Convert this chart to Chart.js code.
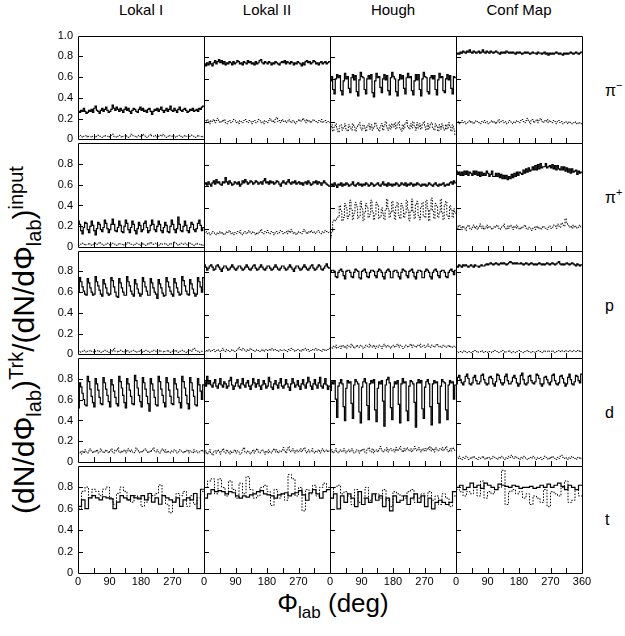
<!DOCTYPE html>
<html>
<head>
<meta charset="utf-8">
<script src="https://cdn.jsdelivr.net/npm/chart.js@4.4.1/dist/chart.umd.min.js"></script>
<style>
  body { margin: 0; background: #fff; }
  #page { position: relative; width: 625px; height: 636px; overflow: hidden; font-family: "Liberation Sans", Arial, sans-serif; color: #000; }
  #page canvas { position: absolute; }
  .colTitle { position: absolute; top: 2px; width: 126px; text-align: center; font-size: 15px; line-height: 15px; }
  .rowLabel { position: absolute; left: 605px; font-size: 16px; line-height: 16px; }
  .rowLabel sup { font-size: 11px; line-height: 0; vertical-align: 7px; }
  #xTitle { position: absolute; left: 230px; width: 206px; top: 590px; text-align: center; font-size: 26px; line-height: 26px; white-space: nowrap; }
  #yTitle { position: absolute; left: 24px; top: 340px; font-size: 30px; line-height: 30px; white-space: nowrap;
            transform: translate(-50%, -50%) rotate(-90deg); }
  sub, sup { line-height: 0; }
  #xTitle sub { font-size: 17px; }
  #yTitle sub, #yTitle sup { font-size: 20px; }
</style>
</head>
<body>
<div id="page">
  <div class="colTitle" style="left:78px">Lokal I</div>
  <div class="colTitle" style="left:204px">Lokal II</div>
  <div class="colTitle" style="left:330px">Hough</div>
  <div class="colTitle" style="left:456px">Conf Map</div>
  <div class="rowLabel" style="top:83px">&pi;<sup>&minus;</sup></div>
  <div class="rowLabel" style="top:190px">&pi;<sup>+</sup></div>
  <div class="rowLabel" style="top:298px">p</div>
  <div class="rowLabel" style="top:405px">d</div>
  <div class="rowLabel" style="top:512px">t</div>
  <div id="xTitle">&Phi;<sub>lab</sub> (deg)</div>
  <div id="yTitle">(dN/d&Phi;<sub>lab</sub>)<sup>Trk</sup>/(dN/d&Phi;<sub>lab</sub>)<sup>input</sup></div>
</div>
<script>
// column / row names
const methods = ["Lokal I", "Lokal II", "Hough", "Conf Map"];
const particles = ["pi-", "pi+", "p", "d", "t"];

// axis ticks
const phiLabelTicks = [0, 90, 180, 270, 360];
const phiMarkTicks = [45, 90, 135, 180, 225, 270, 315];
const ratioMarkTicks = [0.2, 0.4, 0.6, 0.8];

// ---- pi- ----
const piMinusLokal1 = [
  .27,.26,.28,.27,.30,.27,.25,.26,.28,.27,.29,.26,
  .30,.32,.28,.27,.25,.28,.30,.27,.29,.31,.28,.26,
  .27,.29,.33,.30,.28,.31,.29,.27,.30,.28,.26,.29,
  .31,.28,.30,.27,.25,.28,.30,.29,.27,.26,.29,.31,
  .28,.30,.27,.28,.26,.29,.30,.27,.24,.27,.29,.28,
  .30,.27,.29,.31,.28,.26,.28,.30,.27,.29,.32,.28,
  .27,.30,.28,.26,.29,.31,.28,.27,.29,.30,.28,.26,
  .27,.29,.28,.30,.27,.28,.29,.27,.30,.29,.31,.32];
const piMinusLokal1Dot = [
  .03,.04,.03,.02,.03,.03,.04,.02,.03,.03,.02,.03,
  .03,.02,.03,.04,.03,.03,.02,.03,.04,.03,.03,.02,
  .03,.04,.05,.03,.03,.02,.03,.04,.03,.02,.03,.03,
  .04,.03,.02,.03,.05,.04,.03,.03,.02,.03,.04,.03,
  .03,.05,.04,.03,.02,.03,.04,.05,.03,.03,.04,.03,
  .02,.03,.04,.03,.05,.04,.03,.02,.03,.04,.03,.03,
  .04,.03,.02,.03,.03,.04,.03,.02,.03,.04,.03,.03,
  .02,.03,.04,.03,.03,.02,.03,.04,.03,.03,.02,.03];
const piMinusLokal2 = [
  .74,.72,.75,.73,.76,.74,.72,.75,.77,.74,.76,.78,
  .75,.77,.74,.76,.73,.75,.74,.76,.75,.73,.76,.74,
  .75,.77,.76,.74,.75,.73,.76,.75,.74,.77,.75,.76,
  .74,.75,.73,.76,.74,.75,.77,.78,.75,.74,.76,.75,
  .74,.76,.75,.73,.75,.74,.76,.75,.74,.73,.75,.76,
  .75,.77,.74,.76,.75,.74,.76,.75,.73,.75,.74,.76,
  .75,.74,.72,.75,.73,.76,.77,.75,.76,.74,.75,.77,
  .76,.74,.75,.73,.75,.76,.74,.75,.76,.74,.75,.76];
const piMinusLokal2Dot = [
  .21,.19,.22,.20,.18,.21,.20,.22,.19,.21,.23,.20,
  .19,.21,.20,.22,.19,.18,.20,.21,.19,.20,.22,.21,
  .19,.20,.18,.21,.20,.19,.21,.22,.20,.19,.21,.20,
  .18,.20,.21,.19,.20,.22,.21,.19,.20,.18,.21,.20,
  .19,.21,.23,.20,.21,.19,.22,.24,.20,.21,.19,.22,
  .20,.21,.19,.20,.22,.20,.19,.21,.20,.18,.20,.21,
  .22,.20,.21,.23,.21,.19,.22,.20,.21,.19,.20,.22,
  .21,.20,.19,.21,.20,.22,.19,.20,.21,.19,.20,.19];
const piMinusHough = [
  .58,.62,.50,.46,.60,.64,.61,.63,.49,.45,.58,.65,
  .60,.62,.51,.47,.61,.64,.59,.63,.48,.44,.59,.66,
  .62,.61,.50,.46,.60,.63,.60,.64,.47,.43,.58,.65,
  .61,.62,.52,.47,.60,.64,.59,.63,.49,.45,.61,.66,
  .62,.60,.48,.44,.59,.64,.60,.63,.51,.46,.61,.65,
  .61,.62,.49,.45,.58,.64,.59,.64,.50,.44,.60,.66,
  .62,.61,.48,.46,.61,.63,.60,.63,.50,.45,.59,.65,
  .61,.62,.49,.47,.60,.64,.59,.63,.51,.46,.62,.61];
const piMinusHoughDot = [
  .13,.17,.11,.15,.18,.13,.10,.16,.17,.12,.15,.18,
  .13,.11,.17,.15,.12,.18,.15,.11,.14,.17,.19,.14,
  .12,.17,.14,.11,.16,.18,.13,.17,.12,.15,.19,.16,
  .13,.11,.16,.18,.12,.17,.20,.14,.12,.17,.13,.18,
  .15,.19,.13,.17,.20,.14,.11,.17,.13,.18,.21,.15,
  .13,.18,.14,.20,.16,.12,.19,.14,.18,.13,.17,.20,
  .15,.12,.18,.13,.17,.19,.14,.12,.18,.15,.11,.17,
  .13,.18,.14,.12,.17,.13,.19,.15,.11,.17,.13,.08];
const piMinusConf = [
  .83,.84,.83,.85,.84,.86,.85,.84,.86,.85,.87,.85,
  .84,.86,.85,.84,.85,.86,.84,.85,.87,.85,.84,.86,
  .85,.84,.86,.85,.84,.85,.86,.85,.84,.83,.85,.84,
  .85,.84,.86,.85,.84,.85,.84,.85,.84,.83,.85,.84,
  .85,.84,.83,.84,.85,.84,.85,.84,.83,.84,.85,.84,
  .84,.83,.85,.84,.84,.83,.84,.85,.83,.84,.82,.84,
  .83,.84,.83,.84,.85,.84,.83,.84,.83,.82,.84,.83,
  .84,.83,.84,.85,.84,.83,.84,.85,.84,.83,.84,.85];
const piMinusConfDot = [
  .19,.20,.18,.19,.21,.19,.20,.18,.19,.20,.21,.19,
  .20,.18,.19,.21,.20,.19,.18,.20,.19,.21,.19,.20,
  .18,.19,.20,.21,.19,.20,.18,.20,.22,.19,.20,.21,
  .19,.20,.18,.19,.21,.20,.19,.18,.20,.19,.21,.20,
  .19,.21,.22,.20,.19,.21,.23,.20,.18,.21,.22,.19,
  .20,.22,.19,.21,.23,.20,.19,.21,.20,.22,.19,.21,
  .20,.19,.21,.20,.18,.20,.21,.19,.20,.18,.19,.20,
  .19,.18,.20,.19,.18,.19,.20,.18,.19,.18,.19,.18];

// ---- pi+ ----
const piPlusLokal1 = [
  .25,.22,.16,.13,.19,.24,.23,.17,.14,.20,.25,.21,
  .16,.12,.18,.24,.22,.17,.15,.19,.26,.23,.18,.14,
  .17,.22,.27,.22,.16,.15,.19,.25,.21,.15,.14,.20,
  .26,.23,.17,.14,.19,.25,.22,.16,.13,.18,.24,.21,
  .15,.17,.23,.25,.19,.14,.16,.21,.26,.22,.17,.15,
  .20,.25,.22,.16,.14,.19,.24,.21,.15,.14,.20,.26,
  .22,.17,.14,.18,.29,.22,.16,.15,.20,.25,.21,.16,
  .14,.19,.24,.22,.17,.15,.18,.23,.26,.21,.16,.19];
const piPlusLokal1Dot = [
  .02,.03,.03,.04,.03,.02,.03,.03,.04,.03,.02,.03,
  .03,.04,.03,.03,.05,.04,.03,.02,.03,.03,.04,.03,
  .02,.03,.04,.03,.03,.02,.03,.04,.03,.03,.02,.03,
  .03,.04,.05,.04,.03,.03,.02,.03,.04,.03,.03,.02,
  .03,.04,.03,.02,.03,.04,.03,.05,.04,.03,.03,.04,
  .03,.02,.03,.04,.03,.03,.04,.03,.02,.03,.04,.03,
  .03,.05,.04,.03,.02,.03,.04,.03,.03,.04,.03,.02,
  .03,.04,.03,.03,.02,.03,.04,.03,.03,.02,.03,.02];
const piPlusLokal2 = [
  .62,.63,.61,.64,.62,.60,.63,.65,.62,.66,.63,.64,
  .62,.61,.64,.63,.68,.64,.62,.65,.63,.61,.62,.64,
  .63,.62,.64,.60,.62,.65,.63,.66,.64,.62,.63,.65,
  .64,.62,.63,.65,.64,.62,.63,.64,.62,.65,.67,.63,
  .64,.62,.65,.63,.64,.62,.63,.65,.64,.62,.60,.63,
  .65,.63,.62,.64,.66,.63,.62,.64,.63,.65,.62,.63,
  .64,.62,.63,.61,.63,.64,.62,.65,.63,.61,.62,.64,
  .63,.65,.62,.64,.63,.61,.63,.65,.63,.62,.61,.60];
const piPlusLokal2Dot = [
  .17,.18,.16,.17,.15,.16,.18,.17,.16,.15,.17,.16,
  .18,.16,.17,.15,.16,.18,.17,.19,.16,.17,.15,.17,
  .16,.18,.17,.19,.16,.15,.17,.18,.16,.17,.19,.17,
  .16,.18,.17,.15,.17,.16,.18,.20,.17,.16,.18,.17,
  .19,.17,.16,.18,.17,.15,.17,.18,.16,.17,.19,.18,
  .16,.17,.18,.16,.19,.17,.20,.18,.16,.17,.15,.17,
  .18,.17,.16,.18,.20,.17,.16,.18,.17,.19,.17,.18,
  .16,.17,.18,.19,.17,.16,.18,.17,.19,.18,.17,.18];
const piPlusHough = [
  .61,.62,.60,.63,.61,.59,.62,.61,.63,.60,.62,.61,
  .63,.62,.60,.61,.62,.64,.61,.60,.62,.63,.61,.62,
  .60,.62,.61,.63,.62,.60,.61,.63,.62,.60,.61,.62,
  .63,.61,.60,.62,.64,.61,.62,.60,.63,.61,.62,.60,
  .62,.61,.63,.62,.60,.61,.63,.62,.61,.63,.60,.62,
  .61,.63,.62,.60,.62,.61,.63,.62,.61,.60,.62,.61,
  .62,.60,.61,.63,.62,.61,.60,.62,.63,.61,.60,.62,
  .61,.62,.63,.60,.61,.62,.61,.63,.64,.62,.65,.63];
const piPlusHoughDot = [
  .12,.18,.27,.29,.28,.30,.32,.42,.37,.28,.31,.44,
  .40,.30,.33,.47,.38,.29,.35,.45,.41,.30,.32,.46,
  .39,.28,.36,.44,.40,.31,.34,.47,.37,.29,.33,.45,
  .42,.30,.32,.40,.35,.29,.38,.48,.39,.31,.36,.46,
  .36,.29,.41,.45,.33,.30,.44,.40,.31,.35,.47,.38,
  .28,.37,.48,.36,.30,.43,.46,.33,.29,.41,.45,.32,
  .31,.47,.39,.28,.38,.49,.37,.30,.44,.42,.31,.36,
  .48,.35,.29,.43,.46,.33,.30,.42,.38,.31,.39,.35];
const piPlusConf = [
  .74,.71,.73,.70,.73,.70,.74,.71,.74,.70,.73,.72,
  .70,.74,.71,.74,.70,.73,.69,.73,.70,.72,.70,.74,
  .72,.69,.71,.74,.69,.69,.72,.69,.72,.68,.71,.67,
  .70,.67,.70,.66,.69,.67,.71,.68,.72,.69,.73,.70,
  .73,.72,.71,.75,.72,.76,.73,.77,.74,.75,.78,.75,
  .79,.75,.80,.76,.81,.77,.78,.78,.81,.77,.78,.79,
  .77,.80,.76,.79,.75,.79,.76,.75,.78,.75,.78,.74,
  .77,.73,.76,.72,.76,.73,.74,.75,.71,.74,.72,.73];
const piPlusConfDot = [
  .23,.21,.24,.22,.20,.23,.21,.19,.22,.24,.21,.20,
  .22,.24,.21,.23,.20,.22,.25,.21,.23,.20,.22,.24,
  .21,.23,.22,.20,.21,.23,.22,.24,.21,.20,.22,.23,
  .25,.22,.20,.23,.21,.24,.22,.20,.23,.21,.24,.22,
  .20,.22,.21,.23,.24,.21,.20,.22,.21,.19,.21,.22,
  .20,.23,.21,.22,.20,.21,.23,.22,.21,.20,.22,.23,
  .21,.22,.24,.23,.21,.25,.23,.22,.26,.24,.23,.30,
  .26,.24,.22,.23,.21,.24,.22,.23,.21,.22,.24,.22];

// ---- p ----
const protonLokal1 = [
  .60,.74,.70,.65,.61,.58,.57,.73,.69,.64,.60,.57,
  .58,.75,.70,.66,.62,.58,.56,.72,.68,.64,.59,.57,
  .58,.74,.71,.65,.60,.56,.55,.73,.69,.64,.60,.57,
  .57,.75,.70,.66,.61,.58,.56,.72,.68,.63,.59,.56,
  .58,.74,.70,.65,.61,.57,.57,.73,.69,.64,.60,.58,
  .54,.72,.68,.64,.59,.56,.57,.74,.70,.65,.61,.58,
  .56,.73,.69,.64,.60,.57,.58,.75,.71,.66,.61,.58,
  .57,.72,.68,.63,.59,.56,.58,.74,.70,.65,.60,.74];
const protonLokal1Dot = [
  .03,.02,.03,.03,.04,.03,.02,.03,.03,.04,.03,.03,
  .02,.03,.03,.04,.03,.02,.03,.03,.04,.03,.03,.02,
  .03,.04,.03,.06,.03,.03,.02,.03,.04,.03,.02,.03,
  .03,.04,.03,.02,.03,.03,.04,.03,.02,.03,.03,.04,
  .03,.02,.03,.04,.03,.03,.02,.03,.03,.04,.03,.03,
  .02,.03,.04,.03,.03,.02,.03,.03,.04,.03,.02,.03,
  .03,.03,.04,.03,.02,.03,.03,.04,.03,.03,.02,.03,
  .03,.04,.03,.05,.06,.04,.03,.03,.02,.03,.03,.03];
const protonLokal2 = [
  .87,.85,.82,.84,.86,.87,.85,.82,.83,.86,.87,.85,
  .83,.81,.84,.86,.86,.84,.82,.83,.85,.87,.85,.83,
  .82,.84,.86,.86,.84,.82,.83,.85,.87,.85,.83,.82,
  .84,.86,.87,.84,.82,.83,.85,.87,.85,.83,.82,.84,
  .86,.86,.84,.82,.83,.85,.87,.85,.83,.82,.84,.86,
  .86,.84,.82,.83,.85,.87,.85,.83,.81,.84,.86,.86,
  .84,.82,.83,.85,.87,.85,.83,.82,.84,.86,.87,.84,
  .82,.83,.85,.87,.86,.83,.82,.84,.86,.88,.85,.84];
const protonLokal2Dot = [
  .06,.07,.06,.08,.07,.06,.07,.08,.06,.07,.08,.07,
  .06,.07,.09,.07,.06,.08,.07,.06,.07,.08,.07,.06,
  .07,.08,.10,.08,.07,.09,.08,.07,.06,.08,.07,.09,
  .08,.07,.06,.07,.08,.07,.06,.07,.08,.06,.07,.08,
  .07,.08,.07,.09,.08,.07,.08,.07,.06,.07,.08,.07,
  .07,.08,.07,.06,.08,.07,.09,.08,.07,.06,.07,.08,
  .07,.06,.08,.07,.08,.09,.07,.08,.06,.07,.08,.07,
  .08,.09,.07,.08,.07,.06,.08,.07,.08,.07,.08,.09];
const protonHough = [
  .80,.82,.82,.81,.76,.75,.80,.82,.83,.81,.77,.74,
  .81,.82,.82,.80,.76,.75,.80,.83,.82,.81,.75,.74,
  .81,.82,.83,.80,.76,.75,.80,.82,.82,.81,.77,.75,
  .81,.83,.82,.80,.76,.74,.80,.82,.83,.81,.75,.75,
  .81,.82,.82,.80,.76,.74,.80,.83,.82,.81,.77,.75,
  .81,.82,.83,.80,.76,.74,.80,.82,.82,.81,.75,.75,
  .81,.83,.82,.80,.76,.74,.80,.82,.83,.81,.77,.75,
  .81,.82,.82,.80,.76,.75,.80,.82,.83,.81,.78,.82];
const protonHoughDot = [
  .10,.09,.11,.10,.12,.09,.10,.11,.09,.12,.10,.11,
  .09,.12,.11,.10,.13,.11,.09,.10,.12,.11,.10,.12,
  .11,.09,.10,.12,.11,.10,.13,.11,.10,.12,.09,.11,
  .10,.12,.11,.09,.11,.13,.10,.11,.12,.10,.09,.11,
  .12,.10,.11,.13,.10,.12,.11,.09,.10,.12,.11,.10,
  .11,.13,.10,.12,.11,.10,.12,.11,.13,.10,.11,.12,
  .10,.11,.13,.11,.10,.12,.11,.10,.12,.13,.11,.10,
  .11,.10,.12,.11,.10,.11,.12,.10,.11,.10,.11,.10];
const protonConf = [
  .86,.85,.87,.86,.85,.87,.86,.87,.86,.85,.86,.87,
  .86,.85,.87,.86,.86,.85,.86,.87,.86,.86,.87,.88,
  .87,.88,.89,.88,.87,.88,.89,.88,.87,.88,.89,.88,
  .89,.88,.87,.88,.89,.90,.89,.88,.89,.88,.89,.88,
  .88,.89,.88,.87,.88,.89,.88,.87,.88,.89,.88,.87,
  .88,.87,.88,.89,.88,.87,.88,.87,.88,.89,.88,.87,
  .88,.89,.88,.87,.88,.89,.90,.88,.87,.88,.87,.88,
  .89,.88,.87,.88,.89,.88,.87,.86,.88,.87,.86,.87];
const protonConfDot = [
  .06,.05,.06,.06,.05,.06,.07,.06,.05,.06,.06,.05,
  .06,.06,.07,.06,.05,.06,.06,.07,.06,.05,.06,.06,
  .05,.06,.06,.05,.06,.07,.06,.06,.05,.06,.06,.07,
  .06,.05,.06,.06,.07,.06,.05,.06,.06,.05,.06,.06,
  .07,.06,.06,.05,.06,.06,.07,.06,.06,.05,.06,.06,
  .05,.06,.07,.06,.06,.05,.06,.07,.06,.06,.07,.06,
  .06,.07,.06,.05,.06,.06,.07,.06,.07,.06,.06,.07,
  .06,.06,.07,.06,.06,.07,.06,.06,.07,.06,.07,.06];

// ---- d ----
const deuteronLokal1 = [
  .52,.76,.72,.66,.60,.55,.54,.82,.77,.70,.63,.57,
  .53,.80,.75,.69,.62,.56,.55,.81,.76,.70,.64,.58,
  .53,.79,.74,.68,.62,.56,.54,.82,.77,.71,.64,.57,
  .52,.80,.75,.69,.63,.56,.55,.83,.78,.71,.64,.58,
  .53,.81,.76,.70,.63,.56,.49,.80,.75,.69,.62,.55,
  .54,.82,.77,.70,.64,.57,.53,.81,.76,.69,.63,.56,
  .55,.80,.75,.70,.62,.57,.52,.82,.77,.71,.64,.56,
  .51,.81,.76,.69,.63,.55,.54,.80,.74,.68,.60,.74];
const deuteronLokal1Dot = [
  .09,.10,.08,.11,.09,.12,.10,.09,.11,.13,.10,.09,
  .11,.10,.12,.09,.10,.13,.11,.09,.10,.12,.10,.09,
  .11,.13,.10,.09,.12,.11,.14,.10,.09,.11,.10,.12,
  .09,.11,.13,.10,.12,.10,.09,.11,.14,.12,.10,.09,
  .11,.10,.12,.13,.10,.09,.11,.10,.12,.14,.11,.10,
  .12,.10,.09,.11,.13,.10,.12,.09,.11,.10,.09,.11,
  .10,.12,.11,.09,.10,.12,.11,.10,.09,.11,.10,.12,
  .09,.11,.10,.09,.12,.10,.11,.09,.10,.11,.12,.10];
const deuteronLokal2 = [
  .78,.74,.83,.76,.79,.75,.73,.77,.80,.74,.72,.76,
  .81,.75,.73,.78,.76,.72,.74,.79,.82,.75,.71,.74,
  .77,.80,.74,.72,.76,.81,.75,.73,.77,.79,.74,.71,
  .75,.81,.77,.73,.76,.80,.74,.71,.75,.79,.76,.72,
  .74,.82,.78,.73,.71,.76,.79,.75,.72,.77,.81,.74,
  .72,.75,.80,.76,.73,.70,.76,.81,.77,.73,.75,.79,
  .74,.71,.76,.80,.75,.72,.77,.82,.78,.74,.71,.76,
  .80,.75,.72,.77,.82,.74,.72,.76,.81,.75,.71,.74];
const deuteronLokal2Dot = [
  .12,.14,.11,.13,.15,.12,.10,.13,.14,.12,.15,.13,
  .11,.14,.16,.13,.12,.15,.13,.11,.14,.12,.13,.15,
  .12,.14,.13,.11,.12,.15,.17,.13,.12,.14,.13,.11,
  .13,.15,.12,.14,.16,.13,.12,.14,.15,.13,.11,.14,
  .12,.15,.13,.12,.14,.16,.13,.15,.12,.14,.13,.15,
  .17,.14,.12,.15,.18,.14,.13,.16,.14,.12,.15,.13,
  .14,.16,.13,.15,.17,.14,.12,.15,.13,.14,.16,.13,
  .12,.14,.13,.15,.12,.14,.16,.13,.14,.15,.13,.14];
const deuteronHough = [
  .70,.78,.76,.79,.62,.45,.74,.77,.80,.76,.55,.42,
  .72,.79,.77,.78,.58,.44,.75,.80,.78,.76,.50,.40,
  .73,.78,.81,.77,.56,.43,.76,.79,.77,.80,.52,.41,
  .72,.78,.76,.79,.60,.37,.75,.80,.82,.77,.54,.43,
  .73,.78,.76,.79,.57,.40,.76,.81,.77,.78,.51,.42,
  .74,.79,.78,.76,.59,.36,.77,.80,.77,.79,.53,.44,
  .73,.78,.80,.76,.55,.38,.76,.79,.77,.78,.58,.40,
  .74,.80,.78,.77,.52,.43,.75,.79,.77,.78,.62,.75];
const deuteronHoughDot = [
  .13,.15,.12,.14,.16,.13,.12,.15,.14,.13,.16,.14,
  .12,.14,.15,.13,.16,.14,.12,.13,.15,.14,.12,.15,
  .14,.16,.13,.12,.15,.17,.14,.13,.16,.12,.14,.15,
  .13,.16,.18,.14,.13,.15,.14,.17,.13,.15,.16,.14,
  .15,.13,.17,.14,.16,.18,.15,.13,.16,.14,.17,.15,
  .14,.16,.13,.15,.18,.16,.14,.17,.15,.13,.16,.14,
  .16,.14,.17,.15,.18,.14,.16,.13,.17,.15,.14,.16,
  .15,.17,.14,.16,.18,.15,.13,.16,.14,.17,.15,.14];
const deuteronConf = [
  .76,.82,.84,.80,.77,.75,.78,.83,.85,.81,.76,.75,
  .77,.82,.84,.79,.76,.76,.78,.84,.85,.80,.77,.75,
  .76,.82,.83,.81,.76,.74,.78,.85,.84,.80,.77,.75,
  .77,.83,.85,.79,.76,.76,.78,.82,.84,.81,.77,.74,
  .76,.84,.86,.80,.76,.75,.77,.83,.84,.79,.77,.76,
  .78,.85,.84,.81,.76,.74,.76,.82,.83,.80,.77,.75,
  .78,.84,.85,.79,.76,.75,.77,.83,.84,.81,.77,.74,
  .76,.82,.85,.80,.76,.75,.78,.84,.83,.79,.77,.85];
const deuteronConfDot = [
  .08,.07,.09,.07,.06,.08,.07,.09,.08,.06,.07,.08,
  .07,.09,.08,.07,.06,.08,.07,.08,.09,.07,.06,.08,
  .07,.08,.06,.07,.09,.08,.07,.06,.08,.07,.09,.08,
  .07,.06,.08,.07,.09,.08,.10,.08,.07,.09,.08,.07,
  .06,.08,.07,.09,.08,.07,.06,.07,.08,.07,.09,.08,
  .07,.06,.08,.07,.08,.06,.07,.09,.08,.07,.06,.08,
  .07,.09,.08,.07,.06,.08,.07,.09,.10,.08,.07,.08,
  .07,.06,.08,.07,.09,.08,.07,.06,.08,.07,.08,.07];

// ---- t (coarser 10 deg bins) ----
const tritonLokal1 = [
  .62,.68,.60,.70,.72,.70,.68,.71,.70,.69,.60,.66,
  .72,.70,.68,.72,.70,.69,.72,.68,.74,.66,.70,.64,
  .72,.70,.68,.66,.70,.62,.68,.70,.68,.74,.60,.78];
const tritonLokal1Dot = [
  .60,.76,.80,.70,.78,.76,.72,.78,.80,.70,.64,.74,
  .80,.76,.68,.66,.72,.70,.62,.66,.70,.72,.74,.82,
  .72,.64,.56,.66,.74,.72,.76,.62,.72,.64,.70,.76];
const tritonLokal2 = [
  .70,.74,.78,.76,.77,.76,.74,.76,.75,.72,.70,.72,
  .71,.73,.74,.76,.77,.74,.73,.72,.70,.73,.74,.75,
  .72,.74,.75,.77,.73,.68,.75,.78,.74,.70,.76,.78];
const tritonLokal2Dot = [
  .80,.86,.88,.74,.88,.80,.72,.86,.78,.70,.84,.74,
  .90,.78,.70,.72,.80,.82,.76,.63,.78,.70,.74,.68,
  .92,.88,.72,.80,.58,.78,.74,.82,.72,.80,.84,.80];
const tritonHough = [
  .70,.74,.60,.72,.66,.74,.70,.62,.76,.64,.70,.66,
  .74,.68,.72,.62,.70,.58,.72,.66,.68,.72,.64,.70,
  .74,.66,.72,.62,.70,.60,.66,.68,.66,.64,.66,.76];
const tritonHoughDot = [
  .70,.80,.82,.74,.76,.72,.64,.78,.66,.70,.80,.68,
  .72,.74,.70,.78,.68,.62,.76,.74,.72,.70,.76,.78,
  .66,.70,.74,.72,.76,.68,.72,.64,.74,.70,.62,.72];
const tritonConf = [
  .80,.82,.78,.80,.84,.80,.82,.79,.84,.82,.80,.78,
  .83,.82,.81,.80,.82,.81,.79,.80,.80,.81,.79,.80,
  .82,.80,.83,.80,.82,.84,.81,.78,.82,.80,.78,.82];
const tritonConfDot = [
  .78,.76,.72,.76,.74,.80,.72,.86,.70,.76,.74,.78,
  .80,.96,.64,.76,.78,.74,.76,.70,.74,.64,.72,.70,
  .66,.78,.62,.76,.74,.72,.80,.86,.66,.68,.78,.72];

// panel grid: [row][col] -> [solid, dotted]
const panelData = [
  [[piMinusLokal1, piMinusLokal1Dot], [piMinusLokal2, piMinusLokal2Dot], [piMinusHough, piMinusHoughDot], [piMinusConf, piMinusConfDot]],
  [[piPlusLokal1, piPlusLokal1Dot], [piPlusLokal2, piPlusLokal2Dot], [piPlusHough, piPlusHoughDot], [piPlusConf, piPlusConfDot]],
  [[protonLokal1, protonLokal1Dot], [protonLokal2, protonLokal2Dot], [protonHough, protonHoughDot], [protonConf, protonConfDot]],
  [[deuteronLokal1, deuteronLokal1Dot], [deuteronLokal2, deuteronLokal2Dot], [deuteronHough, deuteronHoughDot], [deuteronConf, deuteronConfDot]],
  [[tritonLokal1, tritonLokal1Dot], [tritonLokal2, tritonLokal2Dot], [tritonHough, tritonHoughDot], [tritonConf, tritonConfDot]]
];

// page geometry
const panelLeft = [78, 204, 330, 456];
const panelTop = [36, 143, 251, 358, 466, 573];
const panelWidth = 126;

// bin values -> step points (left bin edges + closing point at 360)
function histPoints(vals) {
  const w = 360 / vals.length;
  const pts = vals.map((v, i) => ({ x: i * w, y: v }));
  pts.push({ x: 360, y: vals[vals.length - 1] });
  return pts;
}

// frame + inward tick marks
const panelFrame = {
  id: 'panelFrame',
  afterDatasetsDraw(chart) {
    const { ctx, chartArea: a } = chart;
    const x = chart.scales.x, y = chart.scales.y;
    const l = Math.round(a.left), t = Math.round(a.top), r = Math.round(a.right), b = Math.round(a.bottom);
    ctx.save();
    ctx.strokeStyle = '#000';
    ctx.lineWidth = 1;
    ctx.beginPath();
    ctx.rect(l + 0.5, t + 0.5, r - l, b - t);
    phiMarkTicks.forEach(v => {
      const px = Math.round(x.getPixelForValue(v)) + 0.5;
      ctx.moveTo(px, b);
      ctx.lineTo(px, b - 5);
    });
    ratioMarkTicks.forEach(v => {
      const py = Math.round(y.getPixelForValue(v)) + 0.5;
      ctx.moveTo(l, py);
      ctx.lineTo(l + 5, py);
    });
    ctx.stroke();
    ctx.restore();
  }
};

const page = document.getElementById('page');
const tickFont = { family: '"Liberation Sans", Arial, sans-serif', size: 11 };

for (let row = 0; row < 5; row++) {
  for (let col = 0; col < 4; col++) {
    const [solid, dotted] = panelData[row][col];
    const ph = panelTop[row + 1] - panelTop[row];
    const showY = col === 0, showX = row === 4;
    const mL = showY ? 50 : 6, mR = 18, mT = 10, mB = showX ? 30 : 10;

    const cv = document.createElement('canvas');
    cv.width = mL + panelWidth + mR;
    cv.height = mT + ph + mB;
    cv.style.left = (panelLeft[col] - mL) + 'px';
    cv.style.top = (panelTop[row] - mT) + 'px';
    page.appendChild(cv);

    const chart = new Chart(cv, {
      type: 'line',
      data: {
        datasets: [{
          data: histPoints(solid),
          borderColor: '#000',
          borderWidth: 1.2,
          stepped: true,
          pointRadius: 0,
          fill: false
        }, {
          data: histPoints(dotted),
          borderColor: '#000',
          borderWidth: 1,
          borderDash: [1.5, 1.5],
          stepped: true,
          pointRadius: 0,
          fill: false
        }]
      },
      options: {
        responsive: false,
        animation: false,
        devicePixelRatio: 1,
        events: [],
        layout: { padding: { left: showY ? 0 : mL, right: mR, top: mT, bottom: showX ? 0 : mB } },
        plugins: { legend: { display: false }, tooltip: { enabled: false } },
        scales: {
          x: {
            type: 'linear', min: 0, max: 360,
            display: showX,
            grid: { display: false, drawTicks: false },
            border: { display: false },
            afterFit: s => { s.height = showX ? mB : 0; },
            ticks: {
              stepSize: 90, autoSkip: false, maxRotation: 0, padding: 2,
              color: '#000', font: tickFont,
              callback: v => (v === 360 && col < 3) ? null : String(v)
            }
          },
          y: {
            min: 0, max: 1,
            display: showY,
            grid: { display: false, drawTicks: false },
            border: { display: false },
            afterFit: s => { s.width = showY ? mL : 0; },
            ticks: {
              stepSize: 0.2, autoSkip: false, padding: 5,
              color: '#000', font: tickFont,
              callback: v => {
                if (Math.abs(v) < 1e-9) return '0';
                if (Math.abs(v - 1) < 1e-9 && row > 0) return null;
                return v.toFixed(1);
              }
            }
          }
        }
      },
      plugins: [panelFrame]
    });

    // snap the plot area exactly onto its panel cell
    const a = chart.chartArea;
    const dw = Math.round(a.right - a.left) - panelWidth;
    const dh = Math.round(a.bottom - a.top) - ph;
    if (dw !== 0 || dh !== 0) {
      const pad = chart.options.layout.padding;
      pad.right += dw;
      pad.bottom += dh;
      chart.update('none');
    }
    const b = chart.chartArea;
    cv.style.left = (panelLeft[col] - Math.round(b.left)) + 'px';
    cv.style.top = (panelTop[row] - Math.round(b.top)) + 'px';
  }
}
</script>
</body>
</html>
